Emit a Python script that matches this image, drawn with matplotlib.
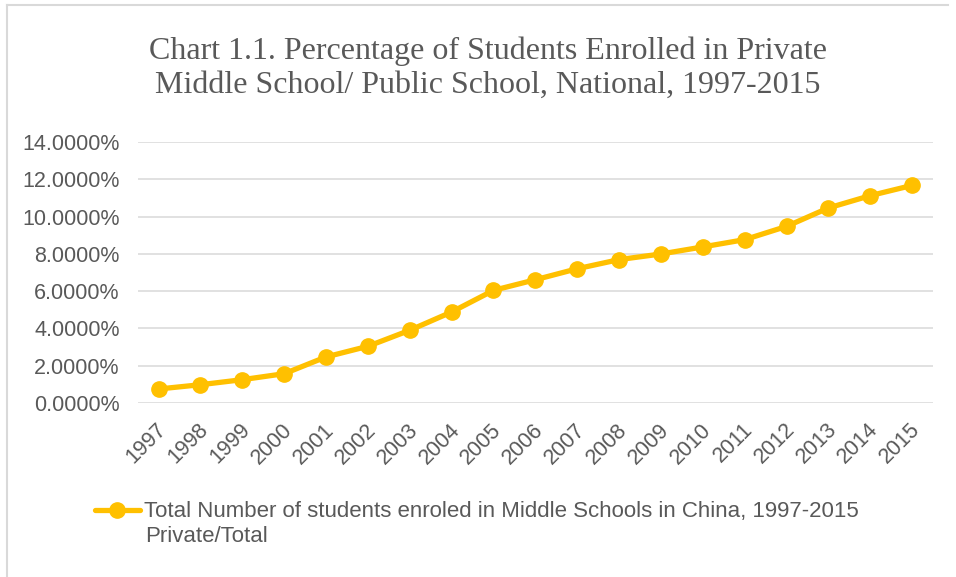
import matplotlib.pyplot as plt
import numpy as np
from matplotlib.lines import Line2D
from matplotlib.ticker import FuncFormatter
import matplotlib.transforms as mtransforms

# share of middle school students in private schools (%)
years = [str(y) for y in range(1997, 2016)]
share = [0.75, 0.98, 1.25, 1.57, 2.47, 3.04, 3.90, 4.88, 6.04, 6.61,
         7.20, 7.69, 7.99, 8.37, 8.76, 9.47, 10.46, 11.12, 11.67]

title = 'Chart 1.1. Percentage of Students Enrolled in Private\nMiddle School/ Public School, National, 1997-2015'
legend_label = 'Total Number of students enroled in Middle Schools in China, 1997-2015'
legend_label2 = 'Private/Total'

gold = '#FFC000'
grey = '#595959'

fig = plt.figure(figsize=(9.56, 5.77), dpi=100)
ax = fig.add_axes([0.144, 0.3016, 0.832, 0.4524])

# chart frame (left and top edges are what shows)
W, H = 956, 577
fig.lines.append(Line2D([7 / W, 7 / W], [0, 1 - 5 / H], transform=fig.transFigure,
                        color='#d9d9d9', linewidth=1.5))
fig.lines.append(Line2D([7 / W, 948 / W], [1 - 5 / H, 1 - 5 / H], transform=fig.transFigure,
                        color='#d9d9d9', linewidth=1.5))

x = np.arange(len(years))
line, = ax.plot(x, share, color=gold, linewidth=3.8, marker='o', markersize=11,
                solid_capstyle='round')

ax.set_xlim(-0.5, len(years) - 0.5)
ax.set_ylim(0, 14)
ax.set_yticks(np.arange(0, 15, 2))
ax.yaxis.set_major_formatter(FuncFormatter(lambda v, p: '%.4f%%' % v))
ax.set_xticks(x)
ax.set_xticklabels(years, rotation=45, ha='right', va='center', rotation_mode='anchor')

ax.grid(axis='y', color='#d9d9d9', linewidth=1.1)
ax.set_axisbelow(True)
for s in ax.spines.values():
    s.set_visible(False)
ax.tick_params(axis='both', length=0, labelsize=15.5, labelcolor=grey)
ax.tick_params(axis='y', pad=13)
ax.tick_params(axis='x', pad=17)
shift = mtransforms.ScaledTranslation(5 / 100, 0, fig.dpi_scale_trans)
for lab in ax.get_xticklabels():
    lab.set_fontfamily('Liberation Sans')
    lab.set_transform(lab.get_transform() + shift)
for lab in ax.get_yticklabels():
    lab.set_fontfamily('Liberation Sans')

fig.text(0.51, 1 - 68 / H, title, ha='center', va='center', fontsize=23,
         family='Liberation Serif', color=grey, linespacing=1.22)

fig.legend([line], [legend_label], loc='center left', bbox_to_anchor=(84 / W, 1 - 512 / H),
           frameon=False, handlelength=2.0, handletextpad=0.2, borderpad=0,
           prop={'family': 'Liberation Sans', 'size': 16}, labelcolor=grey)
fig.text(145 / W, 1 - 537 / H, legend_label2, ha='left', va='center',
         family='Liberation Sans', fontsize=16, color=grey)

fig.savefig('out.png', dpi=100)
